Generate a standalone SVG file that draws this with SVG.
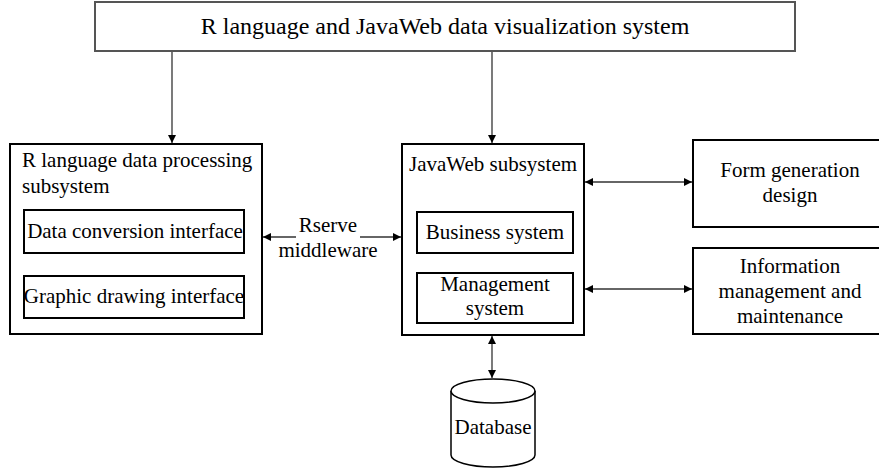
<svg xmlns="http://www.w3.org/2000/svg" width="879" height="472" viewBox="0 0 879 472">
  <style>
    .box { fill: #fff; stroke: #000; stroke-width: 2; }
    .top { fill: #fff; stroke: #555; stroke-width: 2; }
    .inner { fill: #fff; stroke: #000; stroke-width: 2; }
    .link { stroke: #333; stroke-width: 1.3; fill: none; }
    text { font-family: "Liberation Serif", "Times New Roman", serif; font-size: 21px; fill: #000; }
    .c { text-anchor: middle; }
  </style>
  <defs>
    <marker id="arrow" viewBox="0 0 10 10" refX="10" refY="5" markerWidth="8" markerHeight="8" markerUnits="userSpaceOnUse" orient="auto-start-reverse">
      <path d="M0,0 L10,5 L0,10 z" fill="#000"/>
    </marker>
  </defs>
  <rect width="879" height="472" fill="#fff"/>

  <g id="connectors">
    <line class="link" x1="172" y1="51" x2="172" y2="143" marker-end="url(#arrow)"/>
    <line class="link" x1="492" y1="51" x2="492" y2="143" marker-end="url(#arrow)"/>
    <line class="link" x1="263" y1="237" x2="296" y2="237" marker-start="url(#arrow)"/>
    <line class="link" x1="360" y1="237" x2="401" y2="237" marker-end="url(#arrow)"/>
    <line class="link" x1="585" y1="182" x2="692" y2="182" marker-start="url(#arrow)" marker-end="url(#arrow)"/>
    <line class="link" x1="585" y1="289" x2="692" y2="289" marker-start="url(#arrow)" marker-end="url(#arrow)"/>
    <line class="link" x1="492" y1="336" x2="492" y2="378" marker-start="url(#arrow)" marker-end="url(#arrow)"/>
  </g>

  <g id="system">
    <rect class="top" x="95" y="2" width="700" height="49"/>
    <text class="c" x="445" y="34" style="font-size:24px">R language and JavaWeb data visualization system</text>
  </g>

  <g id="r-subsystem">
    <rect class="box" x="10" y="144" width="252" height="190"/>
    <text x="22" y="167">R language data processing</text>
    <text x="22" y="193">subsystem</text>
  </g>
  <g id="data-conversion">
    <rect class="inner" x="24" y="210" width="220" height="43"/>
    <text class="c" x="135" y="238">Data conversion interface</text>
  </g>
  <g id="graphic-drawing">
    <rect class="inner" x="24" y="276" width="220" height="42"/>
    <text class="c" x="134" y="303">Graphic drawing interface</text>
  </g>

  <g id="rserve">
    <text class="c" x="328" y="232">Rserve</text>
    <text class="c" x="328" y="257">middleware</text>
  </g>

  <g id="javaweb-subsystem">
    <rect class="box" x="402" y="144" width="182" height="191"/>
    <text x="409" y="171">JavaWeb subsystem</text>
  </g>
  <g id="business-system">
    <rect class="inner" x="417" y="212" width="156" height="41"/>
    <text class="c" x="495" y="239">Business system</text>
  </g>
  <g id="management-system">
    <rect class="inner" x="417" y="273" width="156" height="50"/>
    <text class="c" x="495" y="291">Management</text>
    <text class="c" x="495" y="315">system</text>
  </g>

  <g id="form-generation">
    <rect class="box" x="693" y="140" width="200" height="87"/>
    <text class="c" x="790" y="177">Form generation</text>
    <text class="c" x="790" y="202">design</text>
  </g>
  <g id="information-management">
    <rect class="box" x="693" y="248" width="200" height="86"/>
    <text class="c" x="790" y="273">Information</text>
    <text class="c" x="790" y="298">management and</text>
    <text class="c" x="790" y="323">maintenance</text>
  </g>

  <g id="database">
    <path d="M451,391 L451,455 A42,12 0 0 0 535,455 L535,391" fill="#fff" stroke="#000" stroke-width="1.5"/>
    <ellipse cx="493" cy="391" rx="42" ry="12" fill="#fff" stroke="#000" stroke-width="1.5"/>
    <text class="c" x="493" y="434">Database</text>
  </g>
</svg>
